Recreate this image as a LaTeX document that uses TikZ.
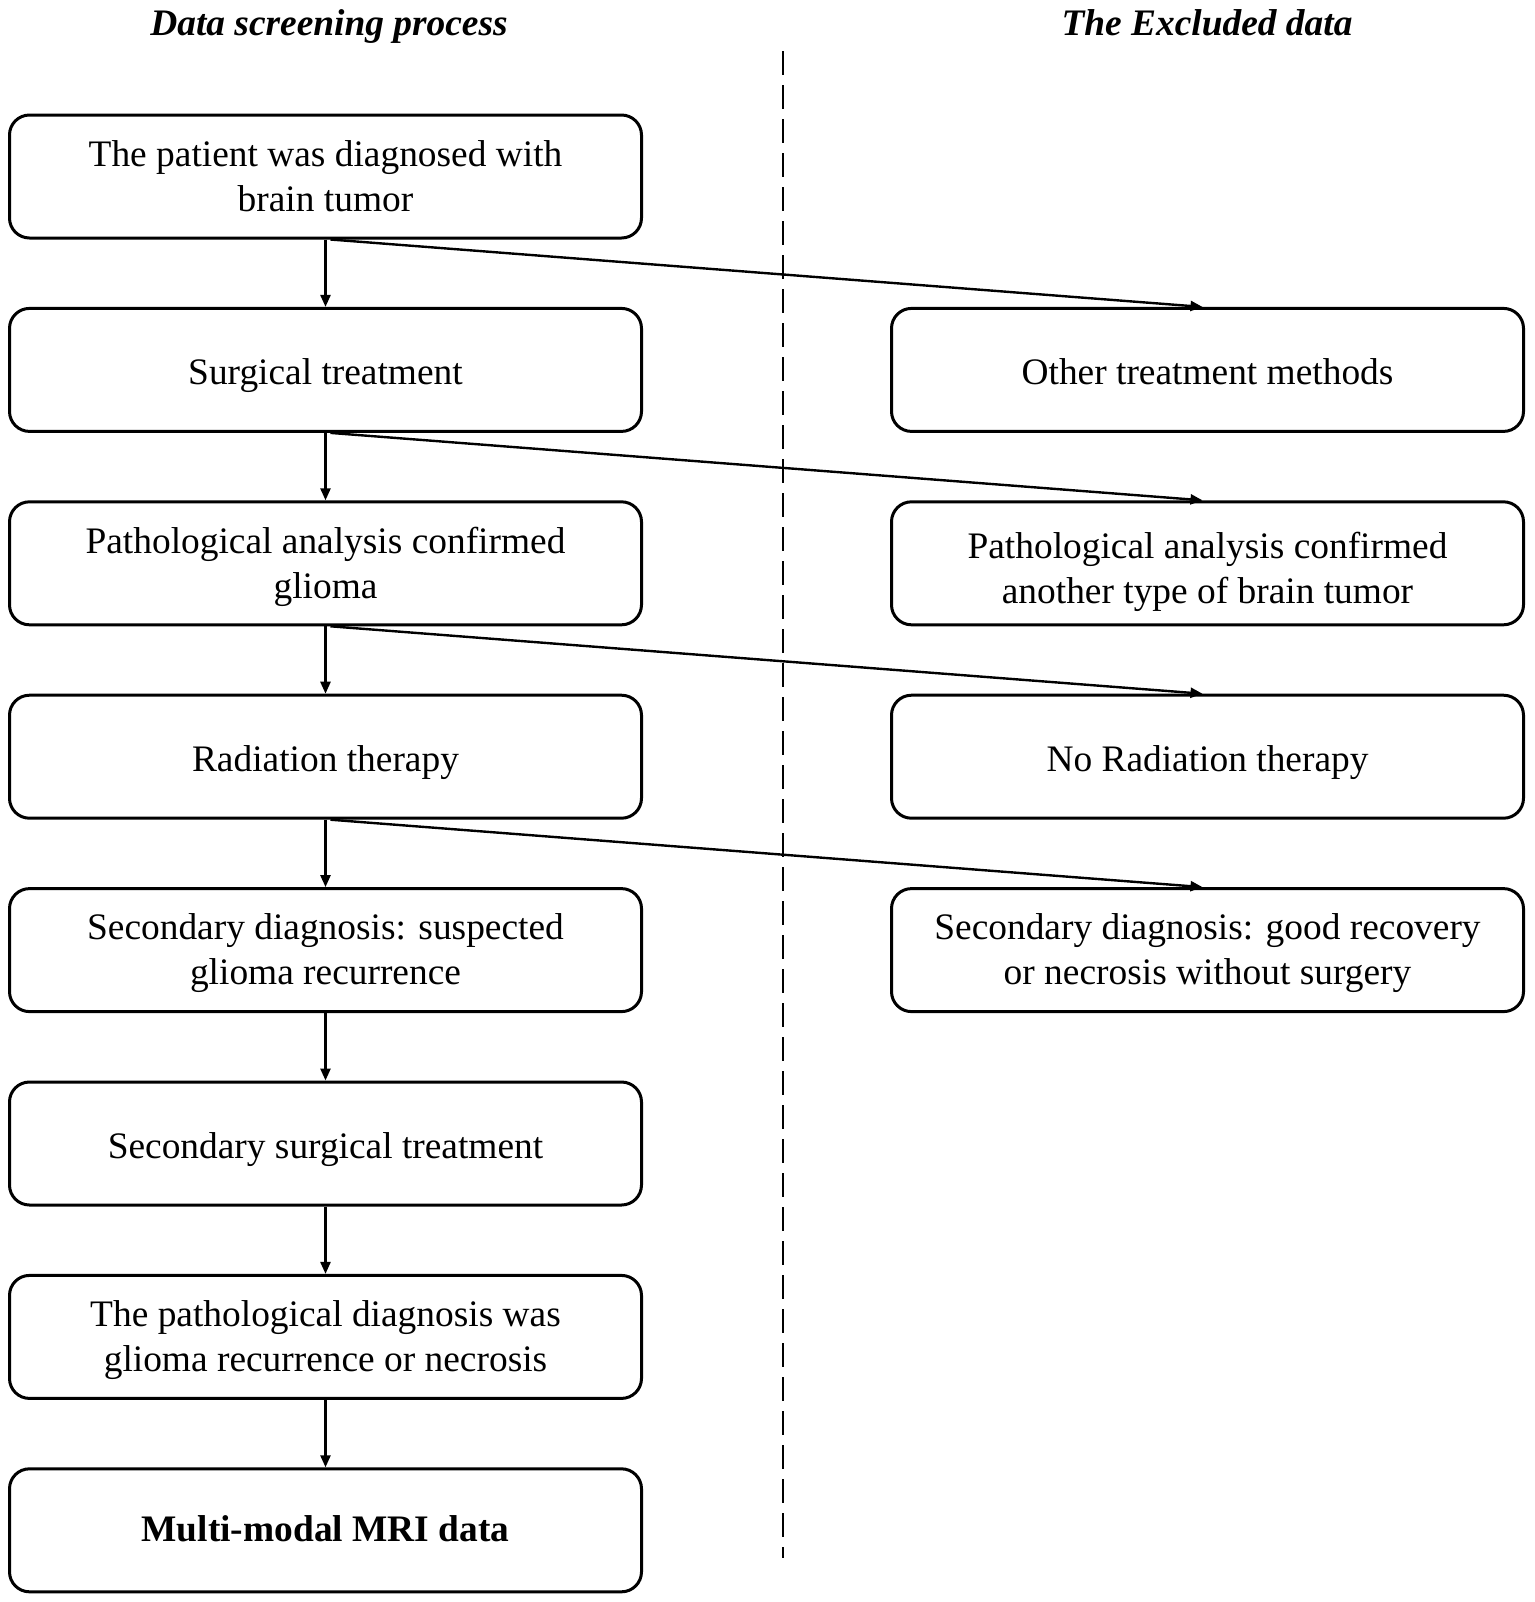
\documentclass[tikz,border=0pt]{standalone}
\usepackage{fontspec}
\setmainfont{Liberation Serif}
\usetikzlibrary{arrows.meta}
\begin{document}
\begin{tikzpicture}[x=0.5pt,y=-0.5pt,
  box/.style={draw, line width=1.5pt, rounded corners=10pt, minimum width=316pt, minimum height=61.5pt, inner sep=0pt},
  boxtext/.style={align=center, inner sep=0pt, font=\fontsize{18.7}{22.5}\selectfont, yshift=-3pt,
    execute at begin node=\strut, execute at end node=\strut},
  header/.style={font=\fontsize{18.7}{21}\selectfont\bfseries\itshape, anchor=base},
  arr/.style={line width=1.2pt, -{Triangle[length=6pt,width=5pt]}},
  sep/.style={line width=1.4pt, dash pattern=on 12pt off 5pt}
]
\useasboundingbox (0,0) rectangle (1535,1602);
\node[header] (h1) at (329,35) {Data screening process};
\node[header] (h2) at (1207,35) {The Excluded data};
\coordinate (d1) at (783,51);
\coordinate (d2) at (783,1558);
\draw[sep] (d1) -- (d2);

\node[box, label={[boxtext]center:{The patient was diagnosed with\\brain tumor}}] (L1) at (325.5,176.5) {};
\node[box, label={[boxtext]center:{Surgical treatment}}] (L2) at (325.5,369.9) {};
\node[box, label={[boxtext]center:{Pathological analysis confirmed\\glioma}}] (L3) at (325.5,563.3) {};
\node[box, label={[boxtext]center:{Radiation therapy}}] (L4) at (325.5,756.7) {};
\node[box, label={[boxtext]center:{Secondary diagnosis: suspected\\glioma recurrence}}] (L5) at (325.5,950.1) {};
\node[box, label={[boxtext]center:{Secondary surgical treatment}}] (L6) at (325.5,1143.5) {};
\node[box, label={[boxtext]center:{The pathological diagnosis was\\glioma recurrence or necrosis}}] (L7) at (325.5,1336.9) {};
\node[box, label={[boxtext, yshift=2pt]center:{\bfseries Multi-modal MRI data}}] (L8) at (325.5,1530.3) {};

\node[box, label={[boxtext]center:{Other treatment methods}}] (R2) at (1207.5,369.9) {};
\node[box, label={[boxtext, yshift=-2.5pt]center:{Pathological analysis confirmed\\another type of brain tumor}}] (R3) at (1207.5,563.3) {};
\node[box, label={[boxtext]center:{No Radiation therapy}}] (R4) at (1207.5,756.7) {};
\node[box, label={[boxtext]center:{Secondary diagnosis: good recovery\\or necrosis without surgery}}] (R5) at (1207.5,950.1) {};

\foreach \a/\b in {L1/L2,L2/L3,L3/L4,L4/L5,L5/L6,L6/L7,L7/L8}
  \draw[arr] (\a.south) -- (\b.north);
\foreach \a/\b in {L1/R2,L2/R3,L3/R4,L4/R5}
  \draw[arr] ([xshift=2.5pt]\a.south) -- ([xshift=-2.5pt]\b.north);
\end{tikzpicture}
\end{document}
